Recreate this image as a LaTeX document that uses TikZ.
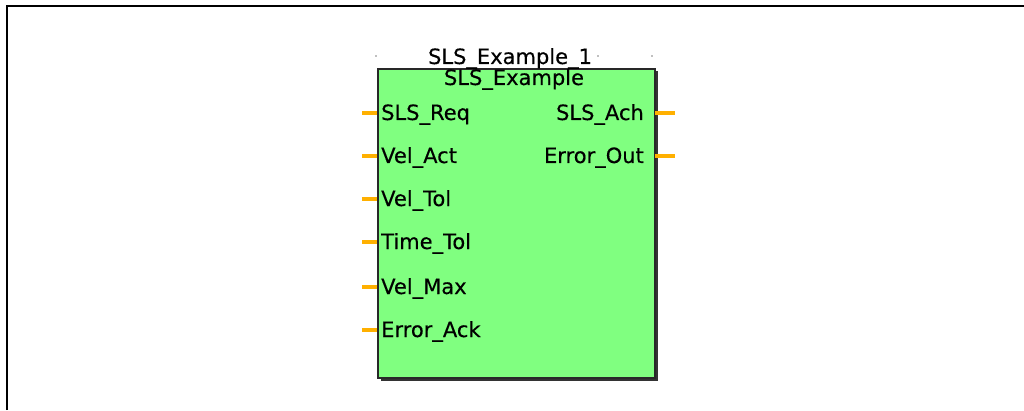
\documentclass[tikz,border=0pt]{standalone}
\usepackage{fontspec}
\setmainfont{DejaVu Sans}[FakeBold=0.4]
\begin{document}
\begin{tikzpicture}[x=1pt,y=1pt,
  pin/.style={draw={rgb,255:red,255;green,176;blue,0}, line width=3.5pt},
  lbl/.style={inner sep=0pt, font=\fontsize{21}{21}\selectfont},
  fb/.style={draw={rgb,255:red,40;green,40;blue,40}, line width=1.6pt, fill={rgb,255:red,128;green,255;blue,128}}]
\useasboundingbox (0,0) rectangle (1024,410);
% outer frame
\draw[line width=2.4pt] (7,0) -- (7,404) -- (1024,404);
% shadow and block
\fill[black!80] (381,29) rectangle (658,339);
\node[fb, minimum width=277pt, minimum height=309pt, inner sep=0pt, anchor=north west] (blk) at (377,342) {};
% dots
\foreach \x in {376,598,652} \fill[gray] (\x,354) circle (0.8);
% titles
\node[lbl, anchor=base] (inst) at (510,346) {SLS\_Example\_1};
\node[lbl, anchor=base] (typ) at (514,325) {SLS\_Example};
% left pins
\foreach \n/\t/\y in {a/SLS\_Req/113, b/Vel\_Act/156, c/Vel\_Tol/199, d/Time\_Tol/242, e/Vel\_Max/287, f/Error\_Ack/330} {
  \coordinate (p\n) at (362,410-\y);
  \coordinate (q\n) at (377,410-\y);
  \draw[pin] (p\n) -- (q\n);
  \node[lbl, anchor=base west] (l\n) at (381,403-\y) {\t};
}
% right pins
\foreach \n/\t/\y in {g/SLS\_Ach/113, h/Error\_Out/156} {
  \coordinate (p\n) at (655,410-\y);
  \coordinate (q\n) at (675,410-\y);
  \draw[pin] (p\n) -- (q\n);
  \node[lbl, anchor=base east] (l\n) at (644,403-\y) {\t};
}
\end{tikzpicture}
\end{document}
